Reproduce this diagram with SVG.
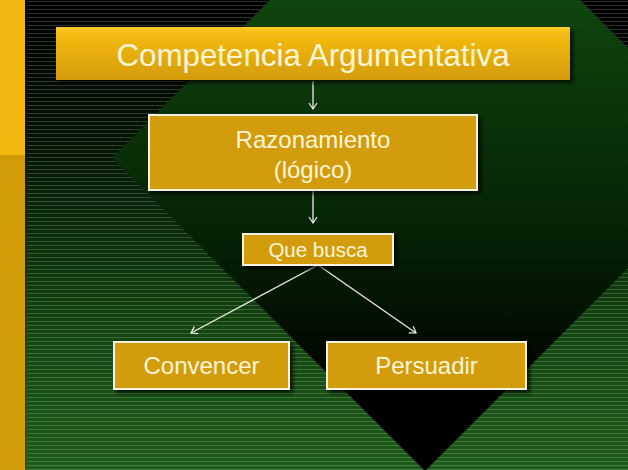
<svg xmlns="http://www.w3.org/2000/svg" width="628" height="470" viewBox="0 0 628 470">
  <defs>
    <linearGradient id="bg" x1="0" y1="0" x2="0" y2="470" gradientUnits="userSpaceOnUse">
      <stop offset="0" stop-color="#000000"/>
      <stop offset="0.3" stop-color="#041404"/>
      <stop offset="0.7" stop-color="#12450f"/>
      <stop offset="1" stop-color="#1d5c19"/>
    </linearGradient>
    <linearGradient id="dia" x1="0" y1="0" x2="0" y2="470" gradientUnits="userSpaceOnUse">
      <stop offset="0" stop-color="#0f450e"/>
      <stop offset="0.5" stop-color="#052205"/>
      <stop offset="0.85" stop-color="#000000"/>
      <stop offset="1" stop-color="#000000"/>
    </linearGradient>
    <linearGradient id="titleFill" x1="0" y1="0" x2="0" y2="1">
      <stop offset="0" stop-color="#fbcb2a"/>
      <stop offset="0.15" stop-color="#f3ba12"/>
      <stop offset="1" stop-color="#d49c0a"/>
    </linearGradient>
    <pattern id="stripes" x="0" y="0" width="8" height="4" patternUnits="userSpaceOnUse">
      <rect x="0" y="1" width="8" height="1" fill="#ffffff" fill-opacity="0.18"/>
    </pattern>
    <filter id="shadow" x="-10%" y="-20%" width="130%" height="160%">
      <feDropShadow dx="3" dy="3" stdDeviation="2" flood-color="#000000" flood-opacity="0.75"/>
    </filter>
    <marker id="arrow" markerWidth="10" markerHeight="10" refX="8" refY="5" orient="auto" markerUnits="userSpaceOnUse">
      <path d="M2,1 L8,5 L2,9" fill="none" stroke="#f2f2ea" stroke-width="1.2"/>
    </marker>
    <style>
      .box { fill: #d29c0b; stroke: #f8f2e2; stroke-width: 2; filter: url(#shadow); }
      .lbl { font-family: "Liberation Sans", Arial, sans-serif; fill: #fff6d8; text-anchor: middle; }
      .conn { stroke: #eeeee6; stroke-width: 1.3; fill: none; marker-end: url(#arrow); }
    </style>
  </defs>

  <!-- background -->
  <rect x="0" y="0" width="628" height="470" fill="url(#bg)"/>
  <rect x="27" y="0" width="601" height="470" fill="url(#stripes)"/>
  <polygon points="425,-155 738,158 425,471 112,158" fill="url(#dia)"/>
  <rect x="0" y="0" width="25" height="155" fill="#f2b80f"/>
  <rect x="0" y="155" width="25" height="315" fill="#d29c08"/>

  <!-- connectors -->
  <g id="connectors">
    <line class="conn" x1="313" y1="81" x2="313" y2="109"/>
    <line class="conn" x1="313" y1="191" x2="313" y2="223"/>
    <line class="conn" x1="318" y1="265" x2="191" y2="333"/>
    <line class="conn" x1="318" y1="265" x2="416" y2="333"/>
  </g>

  <g id="node-title">
    <rect x="56" y="27" width="514" height="53" fill="url(#titleFill)" filter="url(#shadow)"/>
    <text class="lbl" x="313" y="66" font-size="31.3">Competencia Argumentativa</text>
  </g>

  <g id="node-razonamiento">
    <rect class="box" x="149" y="115" width="328" height="75"/>
    <text class="lbl" x="313" y="148" font-size="24">Razonamiento</text>
    <text class="lbl" x="313" y="178" font-size="24">(lógico)</text>
  </g>

  <g id="node-quebusca">
    <rect class="box" x="243" y="234" width="150" height="31"/>
    <text class="lbl" x="318" y="257" font-size="20.5">Que busca</text>
  </g>

  <g id="node-convencer">
    <rect class="box" x="114" y="342" width="175" height="47"/>
    <text class="lbl" x="201.5" y="374" font-size="24">Convencer</text>
  </g>

  <g id="node-persuadir">
    <rect class="box" x="327" y="342" width="199" height="47"/>
    <text class="lbl" x="426.5" y="374" font-size="24">Persuadir</text>
  </g>
</svg>
